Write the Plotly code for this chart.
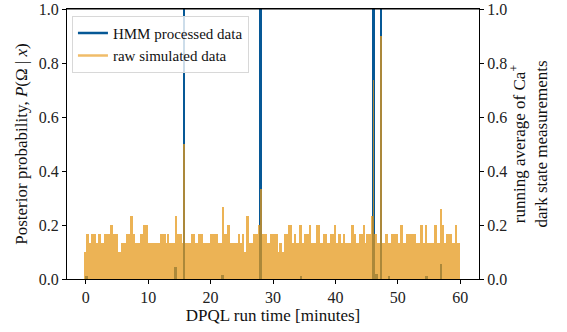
import plotly.graph_objects as go
import numpy as np

# Raw simulated data: running average, piecewise-constant segments (edges in minutes)
raw_edges = [-0.25, 0.0, 0.58, 0.85, 1.59, 1.91, 2.39, 2.92, 3.88, 4.31, 5.11, 5.59, 6.38, 7.08, 7.5, 7.87,
             8.67, 9.1, 10.0, 11.87, 12.83, 13.04, 13.36, 14.27, 14.69, 15.38, 15.55, 15.9, 16.87, 17.57,
             18.04, 18.85, 19.86, 21.24, 21.78, 22.2, 22.57, 23.1, 24.44, 24.75, 24.97, 25.39, 25.66, 26.08,
             26.72, 27.52, 27.85, 28.2, 29.02, 29.44, 30.83, 31.04, 31.46, 31.84, 32.37, 33.06, 33.33, 33.7,
             34.23, 34.66, 34.93, 35.73, 36.1, 36.95, 37.48, 37.96, 38.65, 39.19, 39.72, 40.09, 40.41, 40.94,
             41.16, 41.58, 42.54, 42.91, 43.29, 43.82, 44.35, 44.67, 44.89, 45.7, 45.95, 46.25, 46.69, 47.15,
             47.45, 47.92, 48.45, 48.98, 50.05, 50.31, 50.85, 51.38, 52.87, 53.51, 54.04, 54.31, 54.68, 55.75,
             56.28, 56.7, 57.08, 57.4, 57.77, 58.73, 59.1, 59.47, 60.0]
raw_values = [0.1, 0.167, 0.133, 0.167, 0.133, 0.167, 0.133, 0.167, 0.2, 0.167, 0.1, 0.133, 0.167, 0.233, 0.167,
              0.133, 0.167, 0.2, 0.133, 0.167, 0.133, 0.167, 0.133, 0.233, 0.167, 0.133, 0.5, 0.133, 0.167,
              0.133, 0.167, 0.133, 0.167, 0.133, 0.267, 0.167, 0.2, 0.133, 0.167, 0.133, 0.167, 0.1, 0.233,
              0.133, 0.167, 0.2, 0.333, 0.167, 0.133, 0.167, 0.1, 0.133, 0.1, 0.167, 0.2, 0.133, 0.167, 0.133,
              0.2, 0.133, 0.167, 0.2, 0.133, 0.2, 0.133, 0.167, 0.133, 0.167, 0.2, 0.133, 0.167, 0.133, 0.167,
              0.133, 0.2, 0.167, 0.133, 0.167, 0.2, 0.133, 0.167, 0.233, 0.736, 0.167, 0.133, 0.9, 0.133,
              0.167, 0.133, 0.167, 0.133, 0.2, 0.133, 0.167, 0.133, 0.2, 0.133, 0.2, 0.133, 0.2, 0.133, 0.26,
              0.2, 0.133, 0.167, 0.133, 0.2, 0.133]

# HMM processed data: posterior probability (non-negligible points)
hmm_t = [0.1, 14.4, 15.72, 21.9, 28.02, 34.5, 46.1, 46.6, 47.3, 48.6, 54.6, 56.9]
hmm_p = [0.01, 0.045, 1.0, 0.015, 1.0, 0.01, 1.0, 0.02, 1.0, 0.01, 0.01, 0.055]

x_ticks = [0, 10, 20, 30, 40, 50, 60]
y_ticks = [0.0, 0.2, 0.4, 0.6, 0.8, 1.0]

BLUE = "rgb(6,88,150)"
ORANGE = "rgba(230,152,25,0.74)"

edges = np.array(raw_edges)
mids = (edges[:-1] + edges[1:]) / 2
widths = np.diff(edges)

fig = go.Figure()
fig.add_trace(go.Bar(x=hmm_t, y=hmm_p, width=0.42, marker=dict(color=BLUE, line=dict(width=0)),
                     showlegend=False, yaxis="y"))
fig.add_trace(go.Bar(x=mids, y=raw_values, width=widths, marker=dict(color=ORANGE, line=dict(width=0)),
                     showlegend=False, yaxis="y2"))
fig.add_trace(go.Scatter(x=[None], y=[None], mode="lines", line=dict(color=BLUE, width=2.5),
                         name="HMM processed data"))
fig.add_trace(go.Scatter(x=[None], y=[None], mode="lines", line=dict(color="rgb(240,188,105)", width=2.5),
                         name="raw simulated data"))

font = "Liberation Serif"
axis_common = dict(showline=True, linecolor="black", linewidth=1, ticks="outside", ticklen=4,
                   tickcolor="black", showgrid=False, zeroline=False, ticklabeloverflow="allow",
                   automargin=False, tickfont=dict(family=font, size=16, color="#222"))

fig.update_layout(
    width=567, height=332,
    margin=dict(l=67, r=88, t=9, b=53, autoexpand=False),
    paper_bgcolor="white", plot_bgcolor="white",
    barmode="overlay", bargap=0,
    font=dict(family=font, color="#222"),
    xaxis=dict(range=[-3, 63], tickvals=x_ticks, mirror=True,
               title=dict(text="DPQL run time [minutes]", font=dict(family=font, size=17, color="#111"), standoff=3),
               **axis_common),
    yaxis=dict(range=[0, 1], tickvals=y_ticks, tickformat=".1f",
               title=dict(text="Posterior probability, <i>P</i>(Ω | <i>x</i>)", font=dict(family=font, size=17, color="#111"), standoff=6),
               **axis_common),
    yaxis2=dict(range=[0, 1], tickvals=y_ticks, tickformat=".1f", overlaying="y", side="right",
                title=dict(text="running average of Ca<sup>+</sup><br>dark state measurements",
                           font=dict(family=font, size=17, color="#111"), standoff=6),
                **axis_common),
    legend=dict(x=0.012, y=0.975, xanchor="left", yanchor="top",
                bgcolor="rgba(255,255,255,0.8)", bordercolor="#d8d8d8", borderwidth=1,
                font=dict(family=font, size=15, color="#111"), tracegroupgap=0, itemwidth=30),
    shapes=[dict(type="line", xref="paper", yref="paper", x0=0, x1=1, y0=1, y1=1,
                 line=dict(color="black", width=1.2), showlegend=False, layer="above")],
)

fig.write_html("out.html")
